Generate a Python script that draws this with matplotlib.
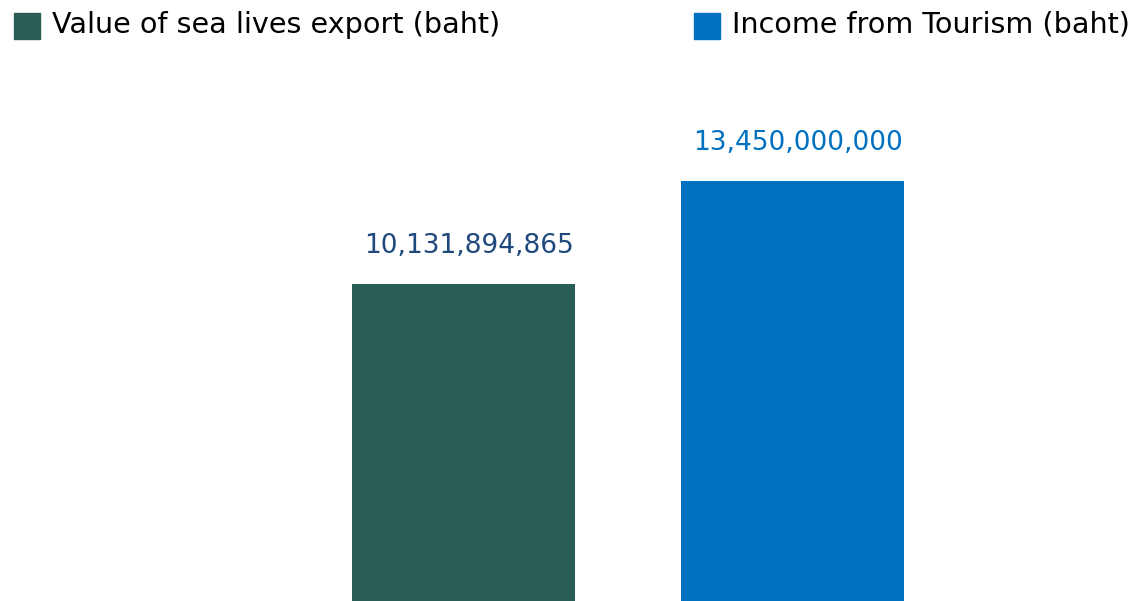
import matplotlib
matplotlib.use("Agg")
import matplotlib.pyplot as plt
from matplotlib.patches import Rectangle

categories = ["Value of sea lives export (baht)", "Income from Tourism (baht)"]
values = [10131894865, 13450000000]
value_labels = ["10,131,894,865", "13,450,000,000"]
bar_colors = ["#2A5E55", "#0070C0"]
label_colors = ["#1F497D", "#0070C0"]

W, H = 1141, 601
fig = plt.figure(figsize=(W / 100, H / 100), dpi=100)
ax = fig.add_axes([0, 0, 1, 1])
ax.set_xlim(-463.5 / 329, (W - 463.5) / 329)
ax.set_ylim(0, 601 / 31.25 * 1e9)
ax.axis("off")

xs = list(range(len(values)))
bars = ax.bar(xs, values, width=223 / 329, color=bar_colors)
for x, v, lab, c in zip(xs, values, value_labels, label_colors):
    ax.annotate(lab, (x, v), xytext=(5, 25), textcoords="offset pixels",
                ha="center", va="bottom", fontsize=19, color=c,
                family="DejaVu Sans")

# legend
legend_x = [14, 694]
for lx, cat, c in zip(legend_x, categories, bar_colors):
    fig.add_artist(Rectangle((lx / W, 1 - 39 / H), 26 / W, 26 / H,
                             transform=fig.transFigure, color=c))
    fig.text((lx + 38) / W, 1 - 25 / H, cat, ha="left", va="center",
             fontsize=20.6, color="#000000", family="DejaVu Sans")

fig.savefig("out.png", dpi=100)
